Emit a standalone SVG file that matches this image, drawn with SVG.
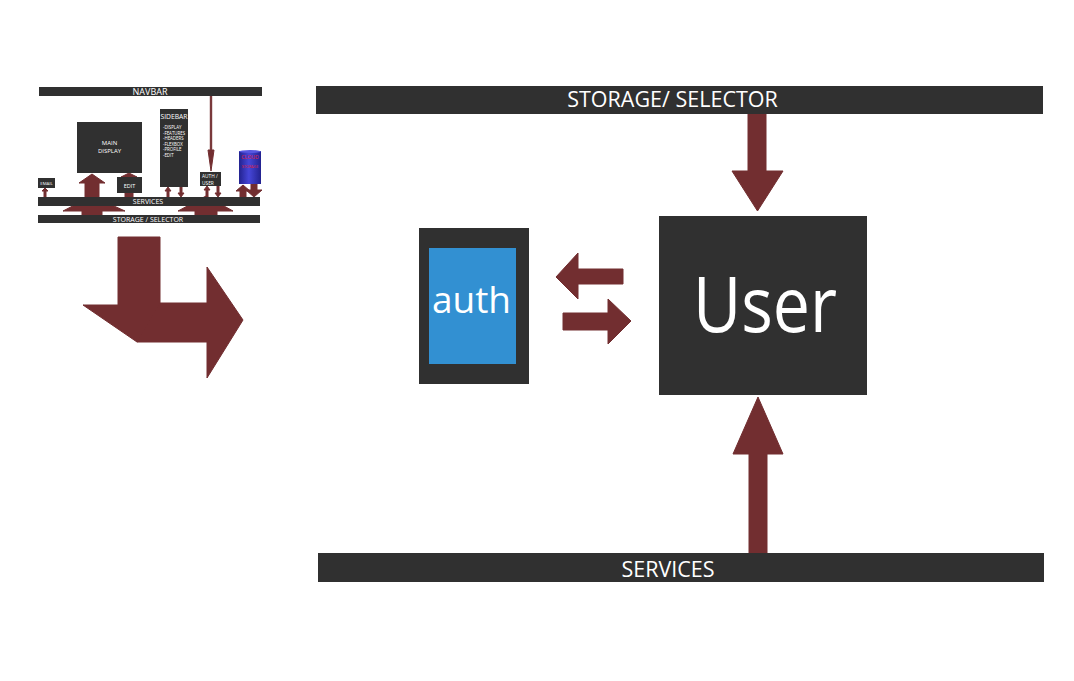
<svg xmlns="http://www.w3.org/2000/svg" width="1074" height="681" viewBox="0 0 1074 681">
<style>
.dk{fill:#303030}
.ar{fill:#722e30;stroke:#722e30;stroke-width:1;stroke-linejoin:round}
.t{font-family:"Open Sans","Noto Sans","DejaVu Sans",sans-serif;fill:#ffffff}
.m{text-anchor:middle}
.cl{font-family:"Open Sans","Noto Sans",sans-serif;fill:#e0203c;text-anchor:middle}
</style>
<defs>
<linearGradient id="cyl" x1="0" y1="0" x2="1" y2="0">
<stop offset="0" stop-color="#22228f"/>
<stop offset="0.45" stop-color="#4646d8"/>
<stop offset="1" stop-color="#22228f"/>
</linearGradient>
</defs>
<rect width="1074" height="681" fill="#ffffff"/>

<!-- thumbnail -->
<g id="thumbnail">
<g id="thumb-connectors">
<polygon class="ar" points="82,215 102,215 102,211 125,211 92,196 63,211 82,211"/>
<polygon class="ar" points="195,215 217,215 217,211 233,211 206,196 178,211 195,211"/>
<polygon class="ar" points="85,197 99,197 99,183 105,183 92,174 79,183 85,183"/>
<polygon class="ar" points="125,197 133,197 133,177 137,177 129,173 121,177 125,177"/>
<polygon class="ar" points="44,197 46,197 46,191 48,191 45,188 42,191 44,191"/>
<polygon class="ar" points="167,197 169,197 169,191 171,191 168,187 165,191 167,191"/>
<polygon class="ar" points="180,187 182,187 182,193 184,193 181,197 178,193 180,193"/>
<polygon class="ar" points="206,197 208,197 208,190 210,190 207,186 204,190 206,190"/>
<polygon class="ar" points="217,186 219,186 219,193 221,193 218,197 215,193 217,193"/>
<polygon class="ar" points="240,197 246,197 246,191 250,191 243,185 236,191 240,191"/>
<polygon class="ar" points="251,184 257,184 257,190 262,190 254,197 246,190 251,190"/>
<polygon class="ar" points="210.3,96 211.7,96 211.7,150 214,150 211,171 208,150 210.3,150"/>
</g>
<g id="t-navbar"><rect class="dk" x="39" y="87" width="223" height="9"/><text class="t m" x="150" y="95" font-size="9">NAVBAR</text></g>
<g id="t-main"><rect class="dk" x="77" y="122" width="65" height="51"/><text class="t m" x="109.5" y="145" font-size="6">MAIN</text><text class="t m" x="109.5" y="153" font-size="6">DISPLAY</text></g>
<g id="t-edit"><rect class="dk" x="117" y="177" width="25" height="16"/><text class="t m" x="129.5" y="187.5" font-size="5.5">EDIT</text></g>
<g id="t-sidebar"><rect class="dk" x="160" y="109" width="28" height="78"/>
<text class="t" x="160.5" y="118.5" font-size="7" textLength="27" lengthAdjust="spacingAndGlyphs">SIDEBAR</text>
<text class="t" x="163" y="129" font-size="4.4">-DISPLAY</text>
<text class="t" x="163" y="134.6" font-size="4.4">-FEATURES</text>
<text class="t" x="163" y="140.2" font-size="4.4">-HEADERS</text>
<text class="t" x="163" y="145.8" font-size="4.4">-FLEXBOX</text>
<text class="t" x="163" y="151.4" font-size="4.4">-PROFILE</text>
<text class="t" x="163" y="157" font-size="4.4">-EDIT</text>
</g>
<g id="t-email"><rect class="dk" x="38" y="178" width="17" height="10"/><text class="t m" x="46.5" y="185" font-size="4.3">EMAIL</text></g>
<g id="t-auth"><rect class="dk" x="200" y="172" width="21" height="14"/><text class="t" x="202" y="178" font-size="4.8">AUTH /</text><text class="t" x="202" y="184.5" font-size="4.8">USER</text></g>
<g id="t-cloud"><rect x="239" y="151" width="22" height="33" fill="url(#cyl)"/><ellipse cx="250" cy="151.5" rx="11" ry="1.5" fill="#5656e0"/>
<text class="cl" x="250" y="159" font-size="5.2">CLOUD</text>
<text class="cl" x="250" y="168" font-size="3.8">STORAGE</text></g>
<g id="t-services"><rect class="dk" x="38" y="197" width="222" height="9"/><text class="t m" x="148" y="204.3" font-size="7">SERVICES</text></g>
<g id="t-storage"><rect class="dk" x="38" y="215" width="222" height="8"/><text class="t m" x="148" y="221.8" font-size="7">STORAGE / SELECTOR</text></g>
</g>

<!-- big bend arrow -->
<g id="bend-arrow">
<polygon class="ar" points="118,237 160,237 160,305 195,305 137,342 83,305 118,305"/>
<polygon class="ar" points="137,342 160,303 207,303 207,267 243,320 207,378 207,342"/>
</g>

<!-- main connectors -->
<g id="connectors">
<polygon class="ar" points="748,114 766,114 766,171 783,171 757.5,211 732,171 748,171"/>
<polygon class="ar" points="749,553 767,553 767,454 783,454 758,397 733,454 749,454"/>
<polygon class="ar" points="623,269 623,284 578,284 578,299 556,277 578,253 578,269"/>
<polygon class="ar" points="563,313 608,313 608,299 631,321 608,344 608,330 563,330"/>
</g>

<g id="storage-bar"><rect class="dk" x="316" y="86" width="727" height="28"/><text class="t m" x="672.5" y="107" font-size="21.5">STORAGE/ SELECTOR</text></g>
<g id="services-bar"><rect class="dk" x="318" y="553" width="726" height="29"/><text class="t m" x="668" y="577" font-size="21.5">SERVICES</text></g>
<g id="user"><rect class="dk" x="659" y="216" width="208" height="179"/><text class="t m" x="765" y="332" font-size="76" textLength="144" lengthAdjust="spacingAndGlyphs">User</text></g>
<g id="auth"><rect class="dk" x="419" y="228" width="110" height="156"/><rect x="429" y="248" width="87" height="116" fill="#3290d2"/><text class="t m" x="471.5" y="313" font-size="37">auth</text></g>
</svg>
